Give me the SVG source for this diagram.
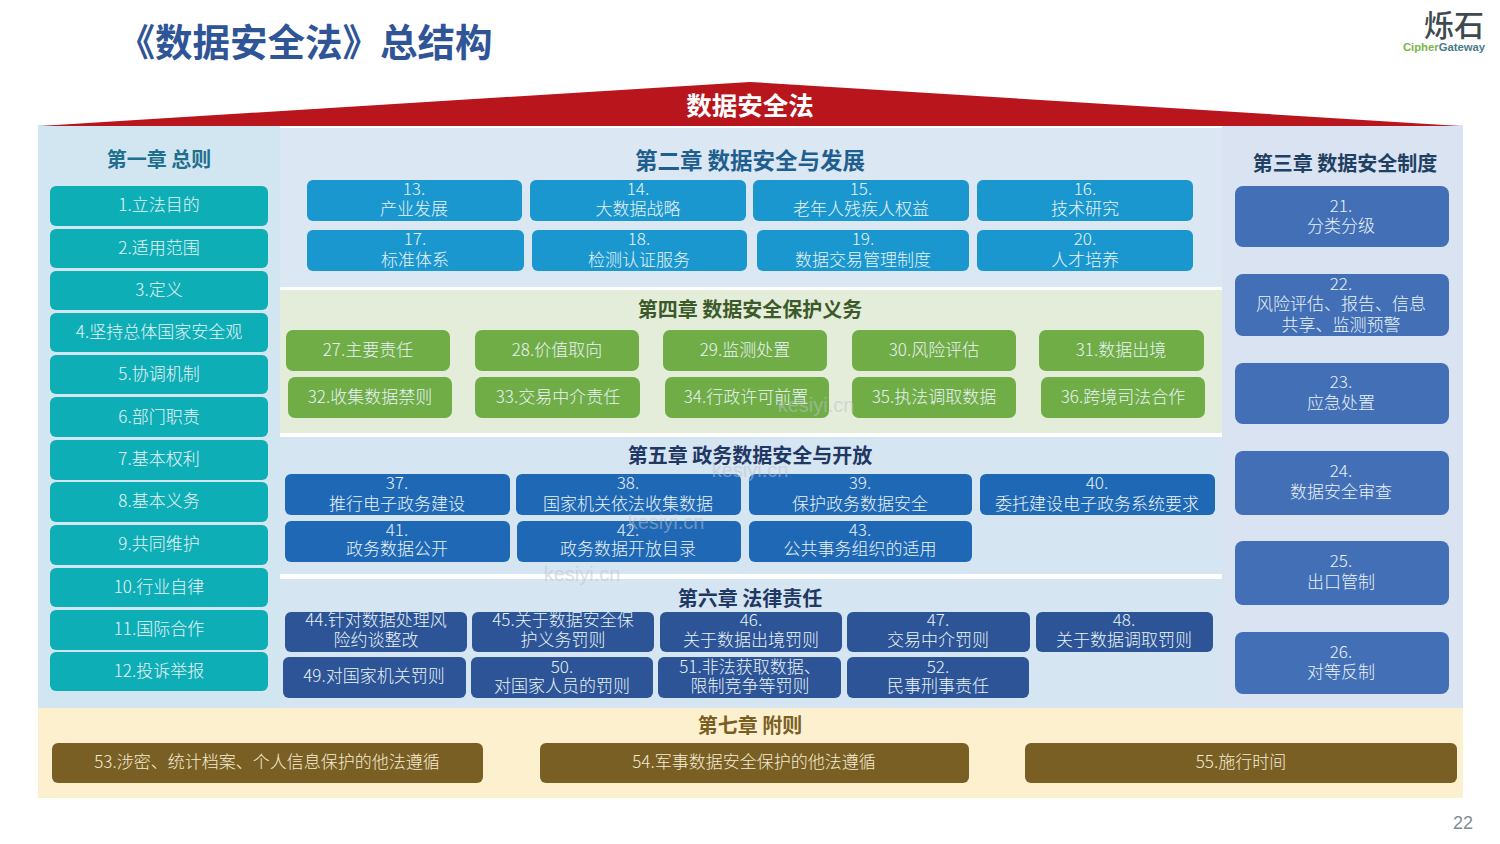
<svg xmlns="http://www.w3.org/2000/svg" width="1500" height="844" viewBox="0 0 1500 844">
<style>
text{font-family:"Noto Sans CJK SC","Noto Sans",sans-serif;text-anchor:middle}
.t{font-size:17px;fill:#e9f3f6;font-weight:300}
.h{font-size:21px;font-weight:700}
.c1 rect{fill:#0eaeb6}.c2 rect{fill:#1a97cf}.c3 rect{fill:#426fb6}.c4 rect{fill:#70ad47}.c5 rect{fill:#1f68b5}.c6 rect{fill:#2c5496}.c7 rect{fill:#7a5f25}
.c7 text{fill:#f5ecd2}
.w{font-family:"Liberation Sans",sans-serif;font-size:20px;fill:#bcc3cc;opacity:.5}
</style>
<rect width="1500" height="844" fill="#fff"/>
<g id="backgrounds">
<rect x="38" y="125" width="242" height="583" fill="#d2e6f1"/>
<rect x="280" y="128" width="942" height="159" fill="#dbe7f2"/>
<rect x="280" y="290" width="942" height="143" fill="#e3edd9"/>
<rect x="280" y="437" width="942" height="137" fill="#d6e5f2"/>
<rect x="280" y="579" width="942" height="129" fill="#d6e5f2"/>
<rect x="1222" y="125" width="241" height="583" fill="#d9e3f1"/>
<rect x="38" y="708" width="1425" height="90" fill="#fdf0cf"/>
<polygon points="40,126 750,82 1460,126" fill="#b9151d"/>
</g>
<text x="305" y="56" style="font-size:37.5px;font-weight:700;fill:#2f5597">《数据安全法》总结构</text>
<g id="logo"><text x="1454" y="36" style="font-size:30px;font-weight:500;fill:#3d4a4f">烁石</text>
<text x="1444" y="51" style="font-size:11.3px;font-weight:700;fill:#4a7a8c;font-family:'Liberation Sans',sans-serif"><tspan fill="#7ab648">Cipher</tspan>Gateway</text></g>
<text x="750" y="115" style="font-size:25.5px;font-weight:700;fill:#fff">数据安全法</text>
<text class="h" x="159" y="167" style="font-size:20px" fill="#1f6f8f">第一章 总则</text>
<text class="h" x="750" y="169" style="font-size:22.5px" fill="#1f5f8f">第二章 数据安全与发展</text>
<text class="h" x="1345" y="171" style="font-size:20px" fill="#1f3f63">第三章 数据安全制度</text>
<text class="h" x="750" y="317" style="font-size:20px" fill="#3c5a2a">第四章 数据安全保护义务</text>
<text class="h" x="750" y="463" style="font-size:20px" fill="#1f3864">第五章 政务数据安全与开放</text>
<text class="h" x="750" y="606" style="font-size:20px" fill="#1f3864">第六章 法律责任</text>
<text class="h" x="750" y="733" style="font-size:20px" fill="#7a5f25">第七章 附则</text>

<g id="ch1" class="c1">
<g id="n1"><rect x="50" y="186" width="218" height="40" rx="6"/><text class="t" x="159" y="211">1.立法目的</text></g>
<g id="n2"><rect x="50" y="229" width="218" height="39" rx="6"/><text class="t" x="159" y="254">2.适用范围</text></g>
<g id="n3"><rect x="50" y="271" width="218" height="39" rx="6"/><text class="t" x="159" y="296">3.定义</text></g>
<g id="n4"><rect x="50" y="313" width="218" height="39" rx="6"/><text class="t" x="159" y="338">4.坚持总体国家安全观</text></g>
<g id="n5"><rect x="50" y="355" width="218" height="39" rx="6"/><text class="t" x="159" y="380">5.协调机制</text></g>
<g id="n6"><rect x="50" y="397" width="218" height="40" rx="6"/><text class="t" x="159" y="423">6.部门职责</text></g>
<g id="n7"><rect x="50" y="440" width="218" height="40" rx="6"/><text class="t" x="159" y="465">7.基本权利</text></g>
<g id="n8"><rect x="50" y="482" width="218" height="40" rx="6"/><text class="t" x="159" y="507">8.基本义务</text></g>
<g id="n9"><rect x="50" y="525" width="218" height="40" rx="6"/><text class="t" x="159" y="550">9.共同维护</text></g>
<g id="n10"><rect x="50" y="568" width="218" height="39" rx="6"/><text class="t" x="159" y="593">10.行业自律</text></g>
<g id="n11"><rect x="50" y="610" width="218" height="40" rx="6"/><text class="t" x="159" y="635">11.国际合作</text></g>
<g id="n12"><rect x="50" y="652" width="218" height="39" rx="6"/><text class="t" x="159" y="677">12.投诉举报</text></g>
</g>

<g id="ch2" class="c2">
<g id="n13"><rect x="307" y="180" width="215" height="41" rx="6"/><text class="t" x="414" y="195">13.</text><text class="t" x="414" y="215">产业发展</text></g>
<g id="n14"><rect x="530" y="180" width="216" height="41" rx="6"/><text class="t" x="638" y="195">14.</text><text class="t" x="638" y="215">大数据战略</text></g>
<g id="n15"><rect x="753" y="180" width="216" height="41" rx="6"/><text class="t" x="861" y="195">15.</text><text class="t" x="861" y="215">老年人残疾人权益</text></g>
<g id="n16"><rect x="977" y="180" width="216" height="41" rx="6"/><text class="t" x="1085" y="195">16.</text><text class="t" x="1085" y="215">技术研究</text></g>
<g id="n17"><rect x="307" y="230" width="217" height="41" rx="6"/><text class="t" x="415" y="245">17.</text><text class="t" x="415" y="266">标准体系</text></g>
<g id="n18"><rect x="532" y="230" width="215" height="41" rx="6"/><text class="t" x="639" y="245">18.</text><text class="t" x="639" y="266">检测认证服务</text></g>
<g id="n19"><rect x="757" y="230" width="212" height="41" rx="6"/><text class="t" x="863" y="245">19.</text><text class="t" x="863" y="266">数据交易管理制度</text></g>
<g id="n20"><rect x="977" y="230" width="216" height="41" rx="6"/><text class="t" x="1085" y="245">20.</text><text class="t" x="1085" y="266">人才培养</text></g>
</g>

<g id="ch3" class="c3">
<g id="n21"><rect x="1235" y="186" width="214" height="61" rx="8"/><text class="t" x="1341" y="212">21.</text><text class="t" x="1341" y="232">分类分级</text></g>
<g id="n22"><rect x="1235" y="274" width="214" height="62" rx="8"/><text class="t" x="1341" y="290">22.</text><text class="t" x="1341" y="310">风险评估、报告、信息</text><text class="t" x="1341" y="331">共享、监测预警</text></g>
<g id="n23"><rect x="1235" y="363" width="214" height="61" rx="8"/><text class="t" x="1341" y="388">23.</text><text class="t" x="1341" y="409">应急处置</text></g>
<g id="n24"><rect x="1235" y="451" width="214" height="64" rx="8"/><text class="t" x="1341" y="477">24.</text><text class="t" x="1341" y="498">数据安全审查</text></g>
<g id="n25"><rect x="1235" y="541" width="214" height="64" rx="8"/><text class="t" x="1341" y="567">25.</text><text class="t" x="1341" y="588">出口管制</text></g>
<g id="n26"><rect x="1235" y="632" width="214" height="62" rx="8"/><text class="t" x="1341" y="658">26.</text><text class="t" x="1341" y="678">对等反制</text></g>
</g>

<g id="ch4" class="c4">
<g id="n27"><rect x="286" y="330" width="164" height="41" rx="7"/><text class="t" x="368" y="356">27.主要责任</text></g>
<g id="n28"><rect x="475" y="330" width="164" height="41" rx="7"/><text class="t" x="557" y="356">28.价值取向</text></g>
<g id="n29"><rect x="663" y="330" width="164" height="41" rx="7"/><text class="t" x="745" y="356">29.监测处置</text></g>
<g id="n30"><rect x="852" y="330" width="164" height="41" rx="7"/><text class="t" x="934" y="356">30.风险评估</text></g>
<g id="n31"><rect x="1039" y="330" width="165" height="41" rx="7"/><text class="t" x="1121" y="356">31.数据出境</text></g>
<g id="n32"><rect x="288" y="377" width="164" height="41" rx="7"/><text class="t" x="370" y="403">32.收集数据禁则</text></g>
<g id="n33"><rect x="475" y="377" width="165" height="41" rx="7"/><text class="t" x="558" y="403">33.交易中介责任</text></g>
<g id="n34"><rect x="665" y="377" width="164" height="41" rx="7"/><text class="t" x="746" y="403">34.行政许可前置</text></g>
<g id="n35"><rect x="852" y="377" width="164" height="41" rx="7"/><text class="t" x="934" y="403">35.执法调取数据</text></g>
<g id="n36"><rect x="1041" y="377" width="164" height="41" rx="7"/><text class="t" x="1123" y="403">36.跨境司法合作</text></g>
</g>

<g id="ch5" class="c5">
<g id="n37"><rect x="285" y="474" width="225" height="41" rx="6"/><text class="t" x="397" y="489">37.</text><text class="t" x="397" y="510">推行电子政务建设</text></g>
<g id="n38"><rect x="516" y="474" width="225" height="41" rx="6"/><text class="t" x="628" y="489">38.</text><text class="t" x="628" y="510">国家机关依法收集数据</text></g>
<g id="n39"><rect x="749" y="474" width="223" height="41" rx="6"/><text class="t" x="860" y="489">39.</text><text class="t" x="860" y="510">保护政务数据安全</text></g>
<g id="n40"><rect x="980" y="474" width="235" height="41" rx="6"/><text class="t" x="1097" y="489">40.</text><text class="t" x="1097" y="510">委托建设电子政务系统要求</text></g>
<g id="n41"><rect x="285" y="521" width="225" height="41" rx="6"/><text class="t" x="397" y="536">41.</text><text class="t" x="397" y="555">政务数据公开</text></g>
<g id="n42"><rect x="517" y="521" width="224" height="41" rx="6"/><text class="t" x="628" y="536">42.</text><text class="t" x="628" y="555">政务数据开放目录</text></g>
<g id="n43"><rect x="749" y="521" width="223" height="41" rx="6"/><text class="t" x="860" y="536">43.</text><text class="t" x="860" y="555">公共事务组织的适用</text></g>
</g>

<g id="ch6" class="c6">
<g id="n44"><rect x="285" y="612" width="182" height="40" rx="6"/><text class="t" x="376" y="626">44.针对数据处理风</text><text class="t" x="376" y="646">险约谈整改</text></g>
<g id="n45"><rect x="472" y="612" width="182" height="40" rx="6"/><text class="t" x="563" y="626">45.关于数据安全保</text><text class="t" x="563" y="646">护义务罚则</text></g>
<g id="n46"><rect x="660" y="612" width="182" height="40" rx="6"/><text class="t" x="751" y="626">46.</text><text class="t" x="751" y="646">关于数据出境罚则</text></g>
<g id="n47"><rect x="847" y="612" width="183" height="40" rx="6"/><text class="t" x="938" y="626">47.</text><text class="t" x="938" y="646">交易中介罚则</text></g>
<g id="n48"><rect x="1036" y="612" width="177" height="40" rx="6"/><text class="t" x="1124" y="626">48.</text><text class="t" x="1124" y="646">关于数据调取罚则</text></g>
<g id="n49"><rect x="283" y="657" width="183" height="41" rx="6"/><text class="t" x="374" y="682">49.对国家机关罚则</text></g>
<g id="n50"><rect x="471" y="657" width="182" height="41" rx="6"/><text class="t" x="562" y="673">50.</text><text class="t" x="562" y="692">对国家人员的罚则</text></g>
<g id="n51"><rect x="658" y="657" width="183" height="41" rx="6"/><text class="t" x="750" y="673">51.非法获取数据、</text><text class="t" x="750" y="692">限制竞争等罚则</text></g>
<g id="n52"><rect x="847" y="657" width="182" height="41" rx="6"/><text class="t" x="938" y="673">52.</text><text class="t" x="938" y="692">民事刑事责任</text></g>
</g>

<g id="ch7" class="c7">
<g id="n53"><rect x="52" y="743" width="431" height="40" rx="6"/><text class="t" x="267" y="768">53.涉密、统计档案、个人信息保护的他法遵循</text></g>
<g id="n54"><rect x="540" y="743" width="429" height="40" rx="6"/><text class="t" x="754" y="768">54.军事数据安全保护的他法遵循</text></g>
<g id="n55"><rect x="1025" y="743" width="432" height="40" rx="6"/><text class="t" x="1241" y="768">55.施行时间</text></g>
</g>

<g id="watermarks">
<text class="w" x="816" y="412">kesiyi.cn</text>
<text class="w" x="750" y="477">kesiyi.cn</text>
<text class="w" x="666" y="529">kesiyi.cn</text>
<text class="w" x="582" y="581">kesiyi.cn</text>
</g>
<text x="1463" y="829" style="font-size:18px;fill:#7f8c94;font-family:'Liberation Sans',sans-serif">22</text>
</svg>
